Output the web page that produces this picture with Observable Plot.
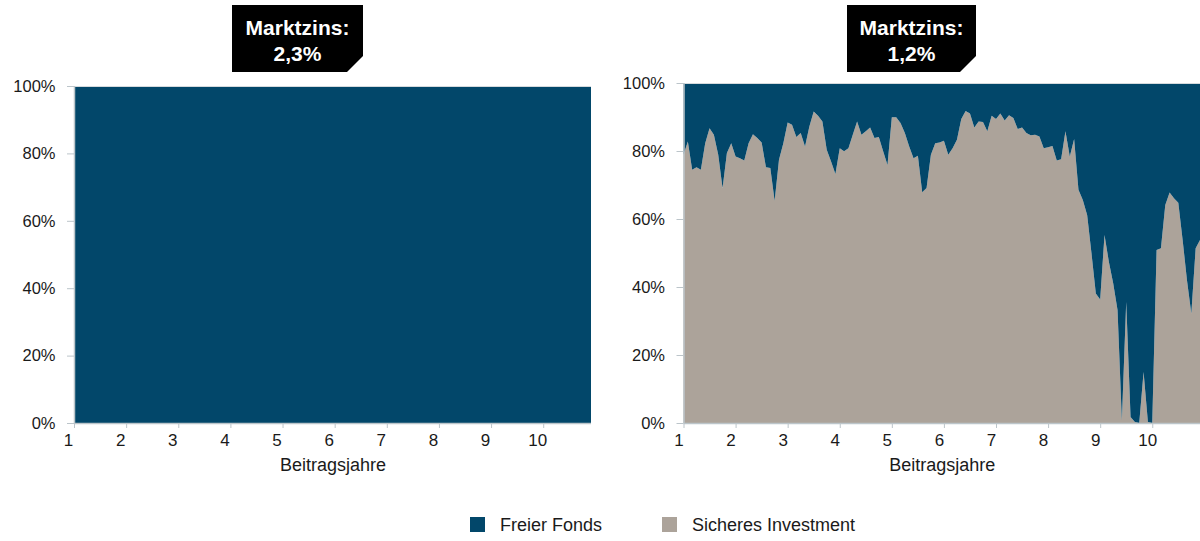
<!DOCTYPE html>
<html>
<head>
<meta charset="utf-8">
<script src="https://cdn.jsdelivr.net/npm/d3@7"></script>
<script src="https://cdn.jsdelivr.net/npm/@observablehq/plot@0.6"></script>
<style>
  html, body { margin: 0; padding: 0; background: #fff; }
  #root { position: relative; width: 1200px; height: 541px; overflow: hidden; font-family: "Liberation Sans", Arial, sans-serif; }
  .panel { position: absolute; top: 0; }
  .badge { position: absolute; top: 5px; height: 67px; background: #000; color: #fff; font-weight: bold; font-size: 21px; line-height: 26px; text-align: center; box-sizing: border-box; padding-top: 10px;
    clip-path: polygon(0 0, 100% 0, 100% calc(100% - 16px), calc(100% - 16px) 100%, 0 100%); }
  .legend { position: absolute; top: 514px; left: 0; width: 1200px; height: 22px; font-size: 18px; color: #1a1a1a; }
  .legend .sw { position: absolute; top: 3px; width: 15px; height: 15px; }
  .legend .lb { position: absolute; top: 0; line-height: 22px; }
</style>
</head>
<body>
<div id="root"></div>
<script>
// Beitragsjahre: monthly points over 10 years (years 1 .. 10 11/12)
const monthCount = 120;
const seriesNames = ["Sicheres Investment", "Freier Fonds"];
const seriesColors = ["#aca39a", "#02476a"];
const xTicks = [1, 2, 3, 4, 5, 6, 7, 8, 9, 10];
const yTicks = [0, 20, 40, 60, 80, 100];
const rates = ["2,3%", "1,2%"];

// Share of "Sicheres Investment" in percent, left panel (Marktzins 2,3%)
const sicheresLeft = [
  0,0,0,0,0,0,0,0,0,0, 0,0,0,0,0,0,0,0,0,0, 0,0,0,0,0,0,0,0,0,0,
  0,0,0,0,0,0,0,0,0,0, 0,0,0,0,0,0,0,0,0,0, 0,0,0,0,0,0,0,0,0,0,
  0,0,0,0,0,0,0,0,0,0, 0,0,0,0,0,0,0,0,0,0, 0,0,0,0,0,0,0,0,0,0,
  0,0,0,0,0,0,0,0,0,0, 0,0,0,0,0,0,0,0,0,0, 0,0,0,0,0,0,0,0,0,0
];
// Share of "Sicheres Investment" in percent, right panel (Marktzins 1,2%)
const sicheresRight = [
  78.9,82.8,74.5,75.2,74.5,82.3,86.7,84.8,78.9,69.1,
  79.4,82.3,78.4,77.9,77.2,82.3,84.9,83.8,82.5,75.2,
  75.0,65.4,77.4,82.3,88.4,87.7,84.1,85.3,81.3,87.2,
  91.6,90.4,88.7,80.4,76.9,73.2,80.8,79.9,80.8,84.8,
  88.7,84.8,85.8,86.9,83.8,84.1,79.9,75.9,89.9,89.9,
  88.2,85.3,81.3,77.9,78.6,67.9,69.1,78.9,82.3,82.5,
  83.0,78.9,80.8,83.3,89.4,91.8,91.0,86.9,88.7,88.5,
  85.8,90.4,89.4,91.0,89.0,90.5,89.7,86.5,86.9,85.3,
  84.6,84.8,84.3,80.8,81.1,81.5,77.2,77.6,85.8,78.4,
  83.5,68.6,65.6,61.2,49.9,38.1,36.3,55.3,47.4,41.1,
  33.2,0.8,35.6,1.8,0.3,0,15.0,0.3,0,50.9,
  51.4,64.1,67.8,66.1,64.8,53.8,42.0,32.2,51.4,53.8
];

function buildRows(sicheres) {
  const rows = [];
  sicheres.forEach((v, i) => {
    const x = 1 + i / 12;
    rows.push({x, series: seriesNames[0], y: v});
    rows.push({x, series: seriesNames[1], y: 100 - v});
  });
  return rows;
}

const axisGrey = "#bcc5ca";
const textCol = "#1a1a1a";

function makePanel(sicheres, opts) {
  const rows = buildRows(sicheres);
  return Plot.plot({
    width: 600,
    height: 500,
    marginLeft: opts.ml,
    marginRight: opts.mr,
    marginTop: opts.mt,
    marginBottom: 77,
    style: {fontFamily: "'Liberation Sans', Arial, sans-serif", fontSize: "16px", color: textCol, background: "transparent"},
    x: {domain: [1, 1 + (monthCount - 1) / 12], ticks: xTicks, tickFormat: d => String(d), label: null},
    y: {domain: [0, 100], ticks: yTicks, tickFormat: d => d + "%", label: null},
    color: {domain: seriesNames, range: seriesColors},
    marks: [
      Plot.areaY(rows, Plot.stackY({x: "x", y: "y", fill: "series", order: seriesNames, curve: "linear"})),
      Plot.ruleY([100], {stroke: "#d5dadd", strokeWidth: 1}),
      Plot.ruleX([1], {stroke: axisGrey, strokeWidth: 1.5}),
      Plot.ruleY([0], {stroke: axisGrey, strokeWidth: 1.5}),
      Plot.axisY({ticks: yTicks, tickFormat: d => d + "%", tickSize: 7, tickPadding: opts.yPad, stroke: axisGrey, fill: textCol, fontSize: 16.5, label: null}),
      Plot.axisX({ticks: xTicks, tickSize: 5, tickPadding: 0, stroke: axisGrey, text: null, label: null}),
      Plot.axisX({ticks: xTicks, tickFormat: d => String(d), tickSize: 5, tickPadding: 5, stroke: null, tickSpacing: 0, fill: textCol, fontSize: 17, dx: opts.xdx, label: null}),
      Plot.text(["Beitragsjahre"], {frameAnchor: "bottom", dy: 47, fontSize: 18, fill: textCol})
    ]
  });
}

const root = document.getElementById("root");

const left = makePanel(sicheresLeft, {ml: 74, mr: 9, mt: 86, yPad: 12, xdx: -6});
left.classList.add("panel");
left.style.left = "0px";
root.appendChild(left);

const right = makePanel(sicheresRight, {ml: 83.5, mr: 0, mt: 83, yPad: 12, xdx: -5});
right.classList.add("panel");
right.style.left = "600px";
root.appendChild(right);

// Badges
[[232, 131, rates[0]], [847, 129, rates[1]]].forEach(([lx, w, r]) => {
  const b = document.createElement("div");
  b.className = "badge";
  b.style.left = lx + "px";
  b.style.width = w + "px";
  b.innerHTML = "Marktzins:<br>" + r;
  root.appendChild(b);
});

// Legend
const legend = document.createElement("div");
legend.className = "legend";
const legendItems = [[seriesNames[1], seriesColors[1], 470, 500], [seriesNames[0], seriesColors[0], 662, 692]];
legendItems.forEach(([name, col, sx, tx]) => {
  const sw = document.createElement("div");
  sw.className = "sw";
  sw.style.left = sx + "px";
  sw.style.background = col;
  legend.appendChild(sw);
  const lb = document.createElement("div");
  lb.className = "lb";
  lb.style.left = tx + "px";
  lb.textContent = name;
  legend.appendChild(lb);
});
root.appendChild(legend);
</script>
</body>
</html>
